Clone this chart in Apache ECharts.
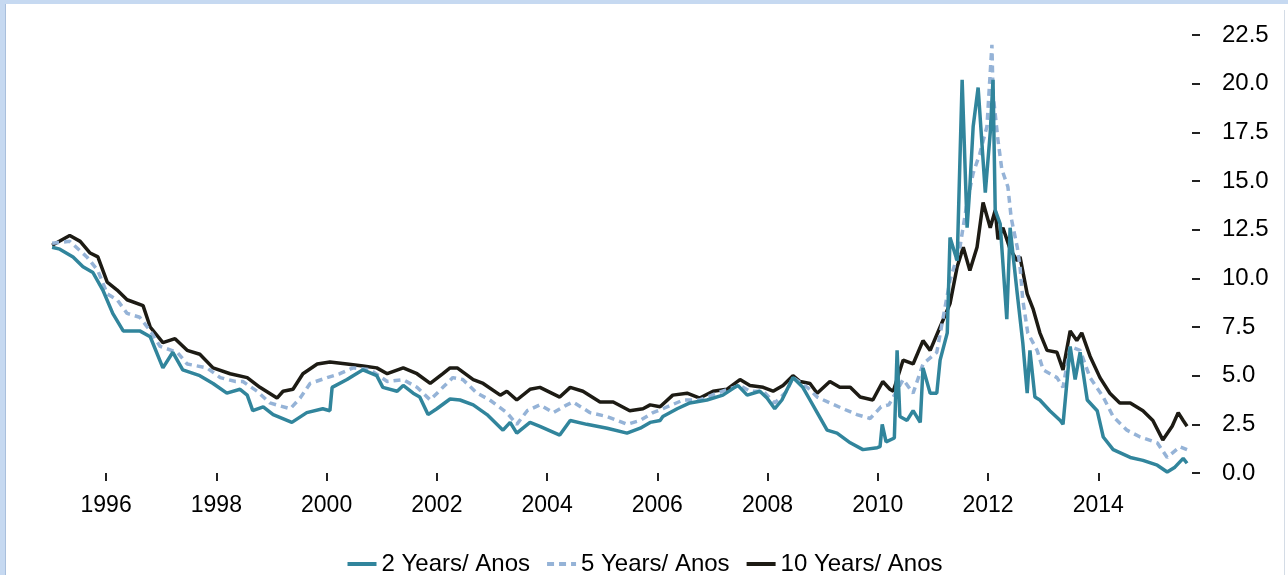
<!DOCTYPE html>
<html>
<head>
<meta charset="utf-8">
<script src="https://cdn.jsdelivr.net/npm/echarts@6/dist/echarts.min.js"></script>
<style>
    html, body { margin: 0; padding: 0; }
    body { width: 1288px; height: 575px; background: #c6d9f1; position: relative; overflow: hidden; }
    #panel { position: absolute; left: 5px; top: 4px; width: 1283px; height: 571px; background: #fff;
             border-left: 1px solid #a9bfdc; box-sizing: border-box; }
    #edge { position: absolute; left: 1284px; top: 10px; width: 1px; height: 565px; background: #d4dce6; }
    #chart { position: absolute; left: 0; top: 0; width: 1288px; height: 575px; }
</style>
</head>
<body>
<div id="panel"></div>
<div id="edge"></div>
<div id="chart"></div>
<script>
// Government bond yields, decimal year vs. yield (%)

const yearTicks = [1996, 1998, 2000, 2002, 2004, 2006, 2008, 2010, 2012, 2014];
const seriesNames = ['2 Years/ Anos', '5 Years/ Anos', '10 Years/ Anos'];

const twoYear = [
    [1995.02, 11.6], [1995.16, 11.5], [1995.40, 11.1], [1995.58, 10.6], [1995.76, 10.3], [1995.94, 9.4],
    [1996.12, 8.2], [1996.31, 7.3], [1996.61, 7.3], [1996.80, 7.0], [1997.03, 5.4], [1997.21, 6.2],
    [1997.39, 5.3], [1997.70, 5.0], [1997.94, 4.6], [1998.19, 4.1], [1998.43, 4.3], [1998.56, 4.0],
    [1998.66, 3.2], [1998.85, 3.4], [1999.03, 3.0], [1999.37, 2.6], [1999.64, 3.1], [1999.93, 3.3],
    [2000.06, 3.2], [2000.10, 4.4], [2000.37, 4.8], [2000.48, 5.0], [2000.66, 5.3], [2000.91, 5.0],
    [2001.02, 4.4], [2001.28, 4.2], [2001.39, 4.5], [2001.57, 4.1], [2001.69, 3.9], [2001.84, 3.0],
    [2002.00, 3.3], [2002.24, 3.8], [2002.42, 3.75], [2002.66, 3.5], [2002.91, 3.0], [2003.20, 2.2],
    [2003.33, 2.6], [2003.45, 2.05], [2003.69, 2.6], [2003.87, 2.4], [2004.23, 1.95], [2004.42, 2.7],
    [2004.72, 2.5], [2005.09, 2.3], [2005.45, 2.05], [2005.69, 2.3], [2005.87, 2.6], [2006.05, 2.7],
    [2006.10, 2.9], [2006.36, 3.3], [2006.59, 3.6], [2006.90, 3.75], [2007.19, 4.0], [2007.46, 4.5],
    [2007.63, 4.0], [2007.86, 4.2], [2007.99, 3.85], [2008.13, 3.3], [2008.26, 3.75], [2008.46, 4.9],
    [2008.64, 4.4], [2008.77, 3.75], [2008.90, 3.1], [2009.08, 2.2], [2009.26, 2.05], [2009.50, 1.55],
    [2009.73, 1.2], [2009.99, 1.3], [2010.04, 1.35], [2010.08, 2.5], [2010.15, 1.6], [2010.30, 1.8],
    [2010.35, 6.3], [2010.40, 2.9], [2010.53, 2.7], [2010.64, 3.2], [2010.77, 2.6], [2010.82, 5.4],
    [2010.95, 4.1], [2011.07, 4.1], [2011.13, 5.8], [2011.26, 7.2], [2011.31, 12.1], [2011.44, 10.9],
    [2011.53, 20.2], [2011.62, 12.6], [2011.67, 14.7], [2011.73, 17.8], [2011.82, 19.8], [2011.95, 14.4],
    [2012.04, 17.5], [2012.09, 20.2], [2012.13, 13.5], [2012.22, 12.8], [2012.34, 7.9], [2012.40, 12.6],
    [2012.53, 9.2], [2012.63, 6.7], [2012.71, 4.1], [2012.76, 6.3], [2012.85, 3.9], [2012.94, 3.75],
    [2013.12, 3.2], [2013.31, 2.7], [2013.36, 2.5], [2013.49, 6.5], [2013.58, 4.8], [2013.67, 6.2],
    [2013.80, 3.75], [2013.98, 3.2], [2014.09, 1.85], [2014.27, 1.2], [2014.58, 0.8], [2014.81, 0.65],
    [2015.07, 0.4], [2015.25, 0.05], [2015.39, 0.3], [2015.54, 0.75], [2015.61, 0.5]
];

const fiveYear = [
    [1995.02, 11.8], [1995.34, 11.9], [1995.65, 11.1], [1995.85, 10.4], [1996.02, 9.2], [1996.20, 8.9],
    [1996.38, 8.2], [1996.61, 8.0], [1996.80, 7.3], [1996.98, 6.5], [1997.29, 6.2], [1997.47, 5.6],
    [1997.83, 5.4], [1998.07, 4.9], [1998.35, 4.7], [1998.48, 4.7], [1998.74, 4.2], [1998.97, 3.6],
    [1999.34, 3.3], [1999.52, 3.85], [1999.70, 4.6], [2000.01, 4.9], [2000.24, 5.1], [2000.48, 5.4],
    [2000.79, 5.3], [2001.10, 4.7], [2001.39, 4.8], [2001.64, 4.4], [2001.88, 3.75], [2002.11, 4.4],
    [2002.29, 4.9], [2002.47, 4.8], [2002.73, 4.1], [2002.96, 3.75], [2003.27, 3.1], [2003.45, 2.5],
    [2003.64, 3.2], [2003.87, 3.5], [2004.11, 3.1], [2004.36, 3.5], [2004.47, 3.65], [2004.78, 3.1],
    [2005.09, 2.9], [2005.45, 2.5], [2005.69, 2.7], [2005.92, 3.1], [2006.10, 3.3], [2006.47, 3.75],
    [2006.77, 3.75], [2007.08, 4.1], [2007.50, 4.5], [2007.68, 4.2], [2007.92, 4.2], [2008.13, 3.6],
    [2008.35, 4.2], [2008.46, 4.9], [2008.72, 4.4], [2008.90, 3.9], [2009.13, 3.6], [2009.37, 3.3],
    [2009.62, 3.0], [2009.86, 2.8], [2010.06, 3.4], [2010.20, 3.5], [2010.28, 3.9], [2010.46, 4.8],
    [2010.64, 4.1], [2010.82, 5.6], [2011.07, 6.2], [2011.18, 7.9], [2011.31, 9.9], [2011.49, 11.6],
    [2011.62, 13.9], [2011.73, 15.4], [2011.85, 16.4], [2011.98, 17.8], [2012.07, 22.0], [2012.09, 19.5],
    [2012.18, 17.1], [2012.25, 15.6], [2012.36, 14.7], [2012.42, 13.1], [2012.53, 11.6], [2012.58, 10.6],
    [2012.63, 8.9], [2012.72, 7.2], [2012.89, 6.3], [2013.00, 5.3], [2013.25, 4.9], [2013.36, 4.4],
    [2013.49, 6.5], [2013.67, 6.3], [2013.85, 4.9], [2014.09, 3.9], [2014.27, 2.9], [2014.52, 2.2],
    [2014.76, 1.85], [2015.07, 1.55], [2015.25, 0.8], [2015.48, 1.35], [2015.61, 1.2]
];

const tenYear = [
    [1995.02, 11.7], [1995.34, 12.2], [1995.53, 11.9], [1995.71, 11.3], [1995.85, 11.1], [1996.02, 9.8],
    [1996.20, 9.4], [1996.38, 8.9], [1996.67, 8.6], [1996.80, 7.5], [1997.03, 6.7], [1997.25, 6.9],
    [1997.47, 6.3], [1997.70, 6.1], [1997.94, 5.4], [1998.25, 5.1], [1998.56, 4.9], [1998.79, 4.4],
    [1999.10, 3.85], [1999.21, 4.2], [1999.39, 4.3], [1999.57, 5.1], [1999.83, 5.6], [2000.06, 5.7],
    [2000.37, 5.6], [2000.66, 5.5], [2000.91, 5.4], [2001.10, 5.1], [2001.39, 5.4], [2001.64, 5.1],
    [2001.88, 4.6], [2002.11, 5.1], [2002.24, 5.4], [2002.37, 5.4], [2002.66, 4.8], [2002.84, 4.6],
    [2003.15, 4.0], [2003.27, 4.2], [2003.45, 3.75], [2003.69, 4.3], [2003.87, 4.4], [2004.23, 3.9],
    [2004.42, 4.4], [2004.65, 4.2], [2004.96, 3.65], [2005.20, 3.65], [2005.50, 3.2], [2005.74, 3.3],
    [2005.87, 3.5], [2006.05, 3.4], [2006.28, 4.0], [2006.54, 4.1], [2006.77, 3.85], [2007.01, 4.2],
    [2007.26, 4.3], [2007.50, 4.8], [2007.68, 4.5], [2007.92, 4.4], [2008.10, 4.2], [2008.28, 4.5],
    [2008.46, 5.0], [2008.59, 4.7], [2008.77, 4.6], [2008.90, 4.1], [2009.13, 4.7], [2009.31, 4.4],
    [2009.50, 4.4], [2009.68, 3.9], [2009.91, 3.75], [2010.09, 4.7], [2010.22, 4.3], [2010.28, 4.2],
    [2010.46, 5.8], [2010.64, 5.6], [2010.82, 6.8], [2010.95, 6.3], [2011.13, 7.5], [2011.31, 8.7],
    [2011.44, 10.6], [2011.55, 11.6], [2011.67, 10.4], [2011.80, 11.6], [2011.91, 13.9], [2012.04, 12.6],
    [2012.09, 13.1], [2012.13, 13.5], [2012.18, 12.0], [2012.27, 12.6], [2012.40, 11.5], [2012.53, 10.9],
    [2012.58, 11.1], [2012.71, 9.2], [2012.82, 8.4], [2012.94, 7.2], [2013.07, 6.3], [2013.25, 6.2],
    [2013.36, 5.3], [2013.49, 7.3], [2013.61, 6.8], [2013.70, 7.2], [2013.85, 6.0], [2014.03, 4.9],
    [2014.21, 4.1], [2014.39, 3.6], [2014.58, 3.6], [2014.81, 3.2], [2014.99, 2.7], [2015.17, 1.7],
    [2015.34, 2.4], [2015.45, 3.1], [2015.54, 2.7], [2015.61, 2.4]
];

const chart = echarts.init(document.getElementById('chart'));
const font = '"Liberation Sans", Arial, sans-serif';

const option = {
    animation: false,
    backgroundColor: 'transparent',
    textStyle: { fontFamily: font },
    grid: { left: 51, right: 96, top: 35, bottom: 102 },
    legend: {
        data: seriesNames,
        top: 547,
        left: 'center',
        itemWidth: 29,
        itemHeight: 14,
        itemGap: 15,
        itemStyle: { opacity: 0 },
        lineStyle: { width: 4 },
        textStyle: { color: '#000', fontSize: 24, fontFamily: font }
    },
    xAxis: {
        type: 'value',
        min: 1995,
        max: 2015.7,
        offset: 9,
        axisLine: { show: false },
        splitLine: { show: false },
        axisTick: { show: true, length: 8, customValues: yearTicks, lineStyle: { color: '#222', width: 2 } },
        axisLabel: { customValues: yearTicks, margin: 12, color: '#000', fontSize: 23, fontFamily: font, formatter: v => String(v) }
    },
    yAxis: {
        type: 'value',
        position: 'right',
        min: 0,
        max: 22.5,
        interval: 2.5,
        axisLine: { show: false },
        splitLine: { show: false },
        axisTick: { show: true, length: 8, lineStyle: { color: '#222', width: 2 } },
        axisLabel: { margin: 30, color: '#000', fontSize: 24, fontFamily: font, formatter: v => v.toFixed(1) }
    },
    series: [
        {
            name: '10 Years/ Anos', type: 'line', data: tenYear, symbol: 'none',
            lineStyle: { color: '#1d1b14', width: 3.5 }, itemStyle: { color: '#1d1b14' }
        },
        {
            name: '5 Years/ Anos', type: 'line', data: fiveYear, symbol: 'none',
            lineStyle: { color: '#95b3d7', width: 3.5, type: [7, 5] }, itemStyle: { color: '#95b3d7' }
        },
        {
            name: '2 Years/ Anos', type: 'line', data: twoYear, symbol: 'none',
            lineStyle: { color: '#31859c', width: 3.5 }, itemStyle: { color: '#31859c' }
        }
    ]
};

chart.setOption(option);
</script>
</body>
</html>
